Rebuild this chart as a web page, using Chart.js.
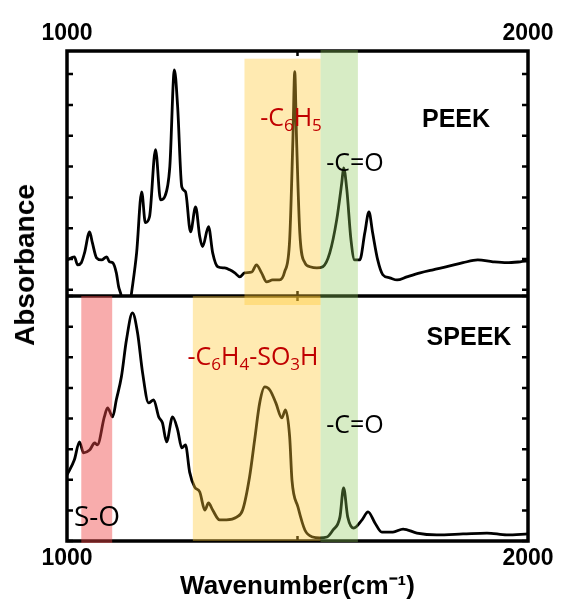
<!DOCTYPE html>
<html>
<head>
<meta charset="utf-8">
<script src="https://cdn.jsdelivr.net/npm/chart.js@4.4.0/dist/chart.umd.min.js"></script>
<style>
  body { margin: 0; background: #fff; }
  #wrap { position: relative; width: 561px; height: 606px; }
  .lbl { position: absolute; white-space: nowrap; line-height: 1; transform: translate(-50%, -50%); }
  .bold { font-family: "Liberation Sans", Arial, sans-serif; font-weight: bold; color: #000; }
  .note { font-family: "Open Sans", sans-serif; color: #000; font-size: 25px; }
  .red { color: #c00000; }
  .note sub { font-size: 0.68em; vertical-align: -0.3em; line-height: 0; }
  .ylab { font-size: 28px; transform: translate(-50%, -50%) rotate(-90deg); }
</style>
</head>
<body>
<div id="wrap">
  <canvas id="chart" width="561" height="606"></canvas>
  <div class="lbl bold ylab" style="left:25px; top:265px;">Absorbance</div>
  <div class="lbl bold" style="left:456px; top:118px; font-size:25px;">PEEK</div>
  <div class="lbl bold" style="left:469px; top:336px; font-size:25px;">SPEEK</div>
  <div class="lbl note red" style="left:291px; top:116px;">-C<sub>6</sub>H<sub>5</sub></div>
  <div class="lbl note" style="left:355px; top:161px;">-C=O</div>
  <div class="lbl note red" style="left:253px; top:355px;">-C<sub>6</sub>H<sub>4</sub>-SO<sub>3</sub>H</div>
  <div class="lbl note" style="left:355px; top:423px;">-C=O</div>
  <div class="lbl note" style="left:97px; top:515px; font-size:28px;">S-O</div>
</div>
<script>
// x axis ticks (wavenumber, cm-1)
const xTicks = [1000, 1500, 2000];

// PEEK spectrum (top panel)
const peekWn = [1000, 1016, 1023, 1031, 1038, 1049, 1055, 1064, 1075, 1086,
  1092, 1099, 1107, 1112, 1118, 1127, 1140, 1151, 1162, 1170,
  1179, 1192, 1203, 1212, 1223, 1233, 1240, 1249, 1257, 1268,
  1279, 1288, 1294, 1307, 1316, 1327, 1342, 1353, 1364, 1375,
  1385, 1401, 1411, 1422, 1433, 1446, 1461, 1472, 1483, 1490,
  1494, 1498, 1505, 1516, 1527, 1542, 1555, 1570, 1585, 1596,
  1600, 1607, 1616, 1624, 1635, 1646, 1655, 1663, 1674, 1685,
  1700, 1716, 1737, 1766, 1794, 1824, 1859, 1891, 1924, 1954,
  1983, 2000];
const peekAbs = [0.97, 1.07, 0.81, 0.88, 1.20, 1.88, 1.53, 1.04, 0.97, 1.07,
  0.91, 0.88, 0.55, 0.10, -0.23, -1.5, -0.10, 1.20, 3.18, 2.18,
  2.37, 4.55, 2.92, 3.02, 3.99, 7.14, 5.94, 3.34, 3.18, 1.88,
  2.69, 1.72, 1.40, 2.05, 1.20, 0.75, 0.71, 0.65, 0.55, 0.42,
  0.55, 0.58, 0.81, 0.55, 0.26, 0.32, 0.32, 0.58, 1.62, 4.87,
  7.08, 4.87, 1.85, 0.88, 0.75, 0.71, 0.75, 1.20, 2.27, 3.47,
  3.96, 3.25, 1.62, 0.97, 0.97, 1.85, 2.53, 1.85, 0.97, 0.49,
  0.39, 0.32, 0.42, 0.55, 0.65, 0.75, 0.88, 0.97, 0.91, 0.88,
  0.91, 0.94];

// SPEEK spectrum (bottom panel)
const speekWn = [1000, 1016, 1027, 1036, 1049, 1060, 1066, 1081, 1088, 1099,
  1107, 1118, 1129, 1142, 1153, 1164, 1177, 1188, 1199, 1207,
  1216, 1229, 1240, 1249, 1257, 1266, 1277, 1288, 1299, 1307,
  1316, 1331, 1346, 1368, 1381, 1396, 1407, 1418, 1429, 1440,
  1453, 1466, 1474, 1483, 1488, 1501, 1516, 1533, 1548, 1564,
  1577, 1592, 1600, 1609, 1622, 1640, 1653, 1668, 1683, 1707,
  1729, 1759, 1802, 1859, 1911, 1954, 2000];
const speekAbs = [2.16, 2.65, 3.24, 2.88, 2.97, 3.20, 3.14, 4.05, 4.35, 4.05,
  4.61, 5.36, 6.57, 7.45, 6.80, 5.49, 4.51, 4.61, 4.05, 3.86,
  3.24, 4.05, 3.63, 3.04, 3.14, 2.25, 1.76, 1.60, 1.01, 1.24,
  1.01, 0.69, 0.69, 0.78, 1.01, 2.09, 3.30, 4.51, 5.03, 4.93,
  4.51, 4.02, 4.28, 3.40, 1.99, 1.11, 0.36, 0.13, 0.10, 0.13,
  0.36, 0.78, 1.73, 0.78, 0.42, 0.69, 0.95, 0.59, 0.29, 0.29,
  0.39, 0.26, 0.20, 0.23, 0.26, 0.20, 0.23];

// highlighted bands (wavenumber ranges)
const bandNames = ['S-O', '-C6H4-SO3H', '-C6H5', '-C=O'];
const bandFrom = [1031, 1273, 1385, 1550];
const bandTo = [1098, 1550, 1550, 1631];

const FONT = '"Liberation Sans", Arial, sans-serif';

// band looks: colour + vertical extent
const bandStyle = {
  'S-O': { color: 'rgba(240,70,70,0.45)', span: (c, t, b) => [b.top, b.bottom + 2] },
  '-C6H4-SO3H': { color: 'rgba(255,200,50,0.38)', span: (c, t, b) => [b.top, b.bottom] },
  '-C6H5': { color: 'rgba(255,200,50,0.38)', span: (c, t, b) => [t.getPixelForValue(7.5), t.bottom + 9] },
  '-C=O': { color: 'rgba(140,200,90,0.35)', span: (c, t, b) => [c.chartArea.top - 1, c.chartArea.bottom + 1] }
};

const panels = {
  id: 'panels',
  beforeDatasetDraw(chart, args) {
    const ys = args.meta.yScale, a = chart.chartArea, ctx = chart.ctx;
    ctx.save();
    ctx.beginPath();
    ctx.rect(a.left, ys.top, a.right - a.left, ys.bottom - ys.top);
    ctx.clip();
  },
  afterDatasetDraw(chart) { chart.ctx.restore(); },
  afterDatasetsDraw(chart) {
    const ctx = chart.ctx, a = chart.chartArea, x = chart.scales.x;
    ctx.save();
    ctx.strokeStyle = '#000';
    // inward ticks
    ctx.lineWidth = 2.5;
    ctx.beginPath();
    ['yTop', 'yBot'].forEach(id => {
      const s = chart.scales[id];
      for (let v = Math.ceil(s.min); v <= s.max; v++) {
        const py = s.getPixelForValue(v);
        ctx.moveTo(a.left, py); ctx.lineTo(a.left + 6, py);
        ctx.moveTo(a.right, py); ctx.lineTo(a.right - 6, py);
      }
      xTicks.slice(1, -1).forEach(v => {
        const px = x.getPixelForValue(v);
        ctx.moveTo(px, s.top); ctx.lineTo(px, s.top + 5);
        ctx.moveTo(px, s.bottom); ctx.lineTo(px, s.bottom - 5);
      });
    });
    ctx.stroke();
    // frame + divider
    ctx.lineWidth = 3.5;
    ctx.strokeRect(a.left, a.top, a.right - a.left, a.bottom - a.top);
    const mid = chart.scales.yTop.bottom;
    ctx.beginPath();
    ctx.moveTo(a.left, mid); ctx.lineTo(a.right, mid);
    ctx.stroke();
    ctx.restore();
  },
  afterDraw(chart) {
    const ctx = chart.ctx, x = chart.scales.x;
    const t = chart.scales.yTop, b = chart.scales.yBot;
    ctx.save();
    bandNames.forEach((name, i) => {
      const st = bandStyle[name];
      const [y0, y1] = st.span(chart, t, b);
      const x0 = x.getPixelForValue(bandFrom[i]), x1 = x.getPixelForValue(bandTo[i]);
      ctx.fillStyle = st.color;
      ctx.fillRect(x0, y0, x1 - x0, y1 - y0);
    });
    ctx.restore();
  }
};

const tickFont = { family: FONT, size: 23, weight: 'bold' };
function xAxis(pos, h, extra) {
  return Object.assign({
    type: 'linear', position: pos, min: 1000, max: 2000,
    afterBuildTicks: s => { s.ticks = xTicks.map(v => ({ value: v })); },
    afterFit: s => { s.height = h; },
    ticks: { callback: v => (v === 1000 || v === 2000) ? String(v) : '', font: tickFont, color: '#000', maxRotation: 0, autoSkip: false, padding: 4 },
    grid: { display: false, drawTicks: false },
    border: { display: false }
  }, extra);
}

new Chart(document.getElementById('chart'), {
  type: 'line',
  data: {
    datasets: [
      { label: 'PEEK', data: peekWn.map((w, i) => ({ x: w, y: peekAbs[i] })), xAxisID: 'x', yAxisID: 'yTop',
        borderColor: '#000', borderWidth: 2.8, pointRadius: 0, cubicInterpolationMode: 'monotone' },
      { label: 'SPEEK', data: speekWn.map((w, i) => ({ x: w, y: speekAbs[i] })), xAxisID: 'x', yAxisID: 'yBot',
        borderColor: '#000', borderWidth: 2.8, pointRadius: 0, cubicInterpolationMode: 'monotone' }
    ]
  },
  options: {
    responsive: false,
    animation: false,
    layout: { padding: { left: 67, right: 33, top: 0, bottom: 0 } },
    plugins: { legend: { display: false }, tooltip: { enabled: false } },
    scales: {
      x: xAxis('bottom', 65, {
        title: { display: true, text: 'Wavenumber(cm⁻¹)', color: '#000',
                 font: { family: FONT, size: 26, weight: 'bold' }, padding: { top: 0, bottom: 4 } }
      }),
      x2: xAxis('top', 51, {}),
      yBot: { type: 'linear', position: 'left', stack: 'panels', stackWeight: 1, weight: 1, min: 0, max: 8, display: false },
      yTop: { type: 'linear', position: 'left', stack: 'panels', stackWeight: 1, weight: 2, min: -0.2, max: 7.75, display: false }
    }
  },
  plugins: [panels]
});
</script>
</body>
</html>
